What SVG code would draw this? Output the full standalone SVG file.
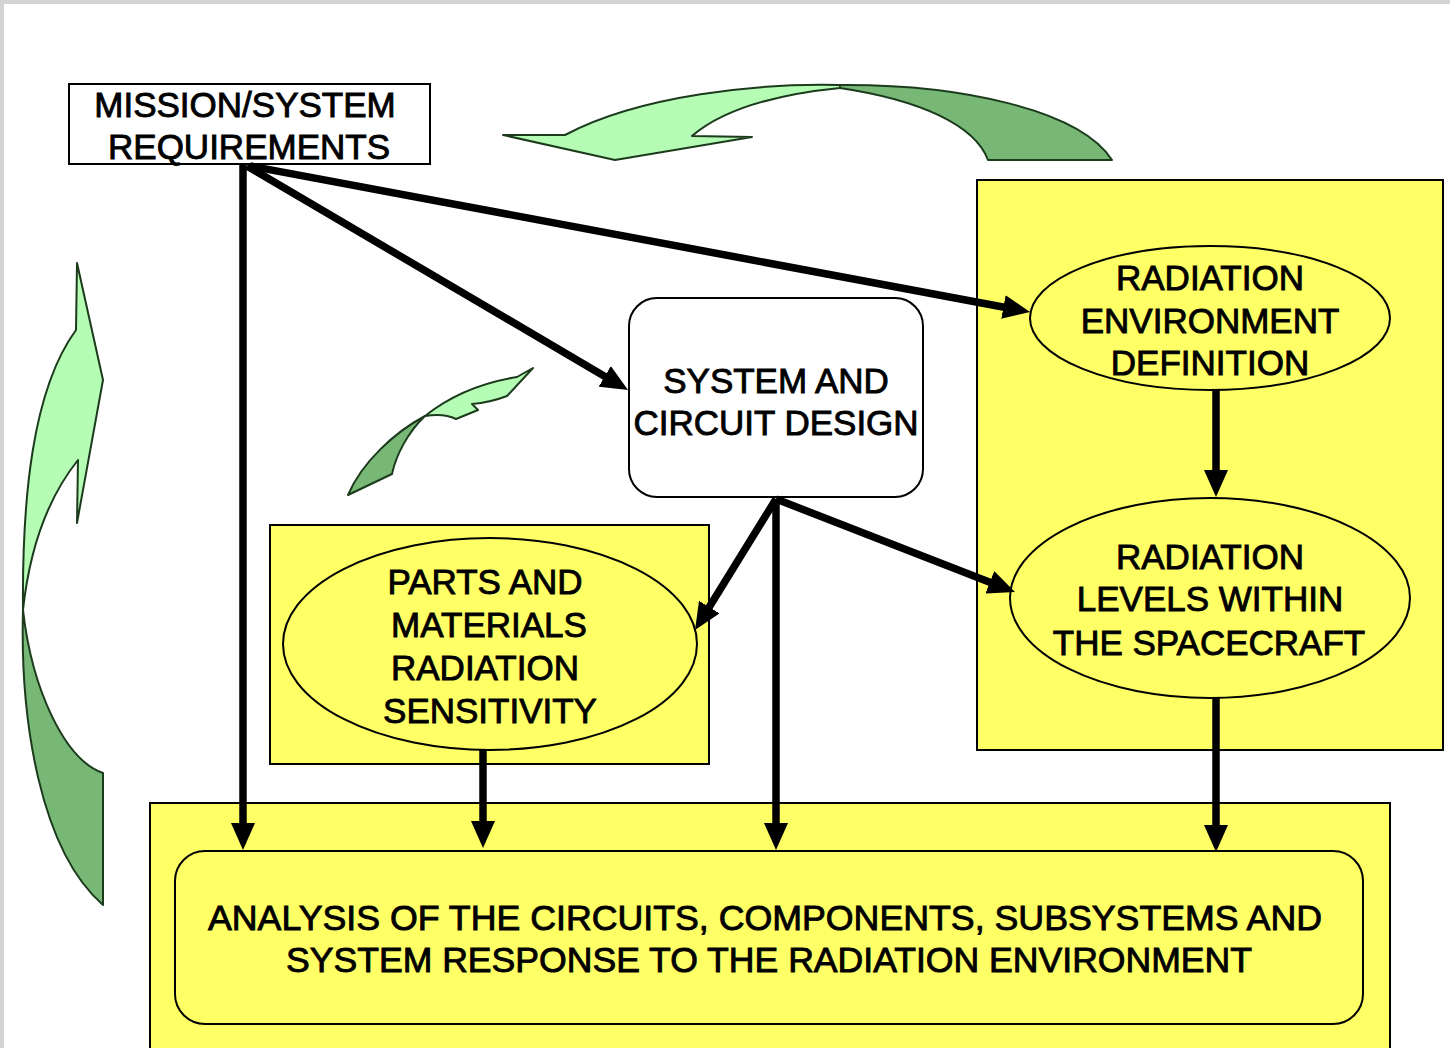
<svg xmlns="http://www.w3.org/2000/svg" width="1450" height="1048" viewBox="0 0 1450 1048">
  <defs>
    <style>
      .lbl { font-family: "Liberation Sans", Arial, sans-serif; font-size: 35px; fill: #000; stroke: #000; stroke-width: 0.9; text-anchor: middle; }
      .panel { fill: #ffff66; stroke: #000; stroke-width: 2; }
      .shape { stroke: #000; stroke-width: 2; }
      .wire { fill: none; stroke: #000; stroke-width: 7.5; stroke-linecap: butt; marker-end: url(#head); }
      .lite { fill: #b5fdb5; stroke: #1c3a1c; stroke-width: 2; stroke-linejoin: round; }
      .dark { fill: #77b877; stroke: #1c3a1c; stroke-width: 2; stroke-linejoin: round; }
    </style>
    <marker id="head" markerUnits="userSpaceOnUse" markerWidth="27" markerHeight="24" viewBox="0 0 27 24" refX="9" refY="12" orient="auto">
      <path d="M0,0 L27,12 L0,24 z" fill="#000"/>
    </marker>
  </defs>

  <!-- page frame -->
  <rect x="0" y="0" width="1450" height="1048" fill="#d3d3d3"/>
  <rect x="4" y="4" width="1446" height="1044" fill="#ffffff"/>

  <!-- decorative curved arrows -->
  <g id="loop-top">
    <path class="lite" d="M840,85 C760,83 640,95 565,135 L503,135 L615,160 L752,137 L692,136 C720,112 770,95 840,88 Z"/>
    <path class="dark" d="M840,85 C960,84 1080,110 1112,160 L988,160 C975,125 920,100 840,88 Z"/>
  </g>
  <g id="loop-left">
    <path class="lite" d="M23,610 C22,500 32,390 76,330 L77,263 L103,380 L77,523 L78,460 C50,495 30,545 23,610 Z"/>
    <path class="dark" d="M23,610 C20,720 40,850 103,905 L103,773 C65,760 32,690 23,610 Z"/>
  </g>
  <g id="loop-mid">
    <path class="lite" d="M425,416 C450,396 480,383 517,377 L533,368 L507,396 C494,401 484,403 472,404 L478,410 L456,419 C448,415 438,414 425,416 Z"/>
    <path class="dark" d="M425,416 C395,432 362,462 348,495 L392,474 C396,455 408,432 425,416 Z"/>
  </g>

  <!-- container panels -->
  <rect id="panel-environment" class="panel" x="977" y="180" width="466" height="570"/>
  <rect id="panel-parts" class="panel" x="270" y="525" width="439" height="239"/>
  <rect id="panel-analysis" class="panel" x="150" y="803" width="1240" height="260"/>

  <g id="mission">
    <rect class="shape" x="69" y="84" width="361" height="80" fill="#fff"/>
    <text class="lbl" x="245" y="117">MISSION/SYSTEM</text>
    <text class="lbl" x="249" y="159">REQUIREMENTS</text>
  </g>

  <g id="design">
    <rect class="shape" x="629" y="298" width="294" height="199" rx="28" ry="28" fill="#fff"/>
    <text class="lbl" x="776" y="393">SYSTEM AND</text>
    <text class="lbl" x="776" y="435">CIRCUIT DESIGN</text>
  </g>

  <g id="environment">
    <ellipse class="shape" cx="1210" cy="318" rx="180" ry="72" fill="#ffff66"/>
    <text class="lbl" x="1210" y="290">RADIATION</text>
    <text class="lbl" x="1210" y="333">ENVIRONMENT</text>
    <text class="lbl" x="1210" y="375">DEFINITION</text>
  </g>

  <g id="levels">
    <ellipse class="shape" cx="1210" cy="598" rx="200" ry="100" fill="#ffff66"/>
    <text class="lbl" x="1210" y="569">RADIATION</text>
    <text class="lbl" x="1210" y="611">LEVELS WITHIN</text>
    <text class="lbl" x="1209" y="655">THE SPACECRAFT</text>
  </g>

  <g id="parts">
    <ellipse class="shape" cx="490" cy="644" rx="207" ry="106" fill="#ffff66"/>
    <text class="lbl" x="485" y="594">PARTS AND</text>
    <text class="lbl" x="489" y="637">MATERIALS</text>
    <text class="lbl" x="485" y="680">RADIATION</text>
    <text class="lbl" x="490" y="723">SENSITIVITY</text>
  </g>

  <g id="analysis">
    <rect class="shape" x="175" y="851" width="1188" height="173" rx="30" ry="30" fill="#ffff66"/>
    <text class="lbl" x="765" y="930" textLength="1114" lengthAdjust="spacingAndGlyphs">ANALYSIS OF THE CIRCUITS, COMPONENTS, SUBSYSTEMS AND</text>
    <text class="lbl" x="769" y="972" textLength="966" lengthAdjust="spacingAndGlyphs">SYSTEM RESPONSE TO THE RADIATION ENVIRONMENT</text>
  </g>

  <g id="connectors">
    <path class="wire" d="M243,165 L243,832"/>
    <path class="wire" d="M247,166 L612.5,380.9"/>
    <path class="wire" d="M250,166 L1012.3,308.7"/>
    <path class="wire" d="M1216,390 L1216,479"/>
    <path class="wire" d="M776,499 L704.5,614.7"/>
    <path class="wire" d="M776,499 L776,832"/>
    <path class="wire" d="M776,499 L998.2,585.5"/>
    <path class="wire" d="M483,750 L483,830"/>
    <path class="wire" d="M1216,698 L1216,834"/>
  </g>
</svg>
